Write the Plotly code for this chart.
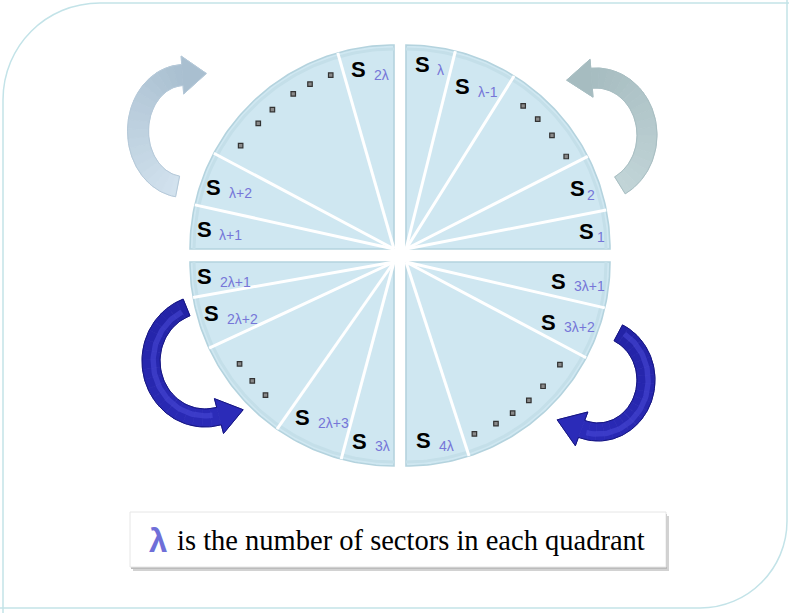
import numpy as np
import plotly.graph_objects as go

# ---------------- data ----------------
# sector boundary angles (degrees, counter-clockwise from east) per quadrant
q1_bounds = [0, 11, 27, 58, 76, 90]
q1_labels = ["1", "2", None, "λ-1", "λ"]
q1_dots = [30.0, 37.9, 44.6, 50.7]

q2_bounds = [90, 106, 152, 167.5, 180]
q2_labels = ["2λ", None, "λ+2", "λ+1"]
q2_dots = [110.0, 117.0, 123.0, 131.1, 137.2, 146.0]

q3_bounds = [180, 190, 205, 235, 255, 270]
q3_labels = ["2λ+1", "2λ+2", None, "2λ+3", "3λ"]
q3_dots = [213.4, 220.0, 226.0]

q4_bounds = [270, 288, 332, 347, 360]
q4_labels = ["4λ", None, "3λ+2", "3λ+1"]
q4_dots = [291.7, 299.1, 305.2, 311.6, 317.8, 326.3]

caption_symbol = "λ"
caption_text = "is the number of sectors in each quadrant"

# ---------------- layout geometry (pixels) ----------------
W, H = 789, 613
CX, CY = 400, 255.5
GX, GY = 6, 6.5
R = 204
DOT_R = 185

quads = [
    (q1_bounds, q1_labels, q1_dots, (CX + GX, CY - GY)),
    (q2_bounds, q2_labels, q2_dots, (CX - GX, CY - GY)),
    (q3_bounds, q3_labels, q3_dots, (CX - GX, CY + GY)),
    (q4_bounds, q4_labels, q4_dots, (CX + GX, CY + GY)),
]

FILL = "#cfe7f1"
EDGE = "#b4d3de"
SUBCOL = "#7676d8"
S_SIZE = 22
SUB_SIZE = 14
S_W = 0.667 * S_SIZE
CHAR_W = {"λ": 0.5, "+": 0.584, "-": 0.333}

fig = go.Figure()


def pt(c, r, a):
    t = np.radians(a)
    return c[0] + r * np.cos(t), c[1] - r * np.sin(t)


def sub_width(s):
    return sum(CHAR_W.get(ch, 0.556) for ch in s) * SUB_SIZE


annotations = []
for bounds, labels, dots, c in quads:
    a0, a1 = bounds[0], bounds[-1]
    arc = np.linspace(a0, a1, 90)
    xs = [c[0]] + [pt(c, R, a)[0] for a in arc] + [c[0]]
    ys = [c[1]] + [pt(c, R, a)[1] for a in arc] + [c[1]]
    fig.add_trace(go.Scatter(x=xs, y=ys, mode="lines", fill="toself",
                             fillcolor=FILL, line=dict(color=EDGE, width=1.6),
                             hoverinfo="skip"))
    # inner rim for slight bevel look
    fig.add_trace(go.Scatter(x=[pt(c, R - 4, a)[0] for a in arc],
                             y=[pt(c, R - 4, a)[1] for a in arc],
                             mode="lines", line=dict(color="#c4dfe9", width=3),
                             hoverinfo="skip"))
    # white sector separators
    lx, ly = [], []
    for b in bounds[1:-1]:
        ex, ey = pt(c, R, b)
        lx += [c[0], ex, None]
        ly += [c[1], ey, None]
    fig.add_trace(go.Scatter(x=lx, y=ly, mode="lines",
                             line=dict(color="white", width=3), hoverinfo="skip"))
    # dots
    fig.add_trace(go.Scatter(x=[pt(c, DOT_R, a)[0] for a in dots],
                             y=[pt(c, DOT_R, a)[1] for a in dots],
                             mode="markers",
                             marker=dict(symbol="square", size=4.5, color="#8a8a8a",
                                         line=dict(color="#333333", width=1.2)),
                             hoverinfo="skip"))
    # labels: bold "S" followed by a lowered, smaller coloured index
    for i, lab in enumerate(labels):
        if lab is None:
            continue
        mid = (bounds[i] + bounds[i + 1]) / 2
        rr = 190 - 4.5 * len(lab)
        x, y = pt(c, rr, mid)
        gap = 1 if lab.isdigit() else 6
        drop = 6 if lab.isdigit() else 5
        total = S_W + gap + sub_width(lab)
        left = x - total / 2
        annotations.append(dict(x=left + S_W / 2, y=y, xref="x", yref="y",
                                text="<b>S</b>", showarrow=False,
                                xanchor="center", yanchor="middle",
                                font=dict(family="Liberation Sans, Arial", size=S_SIZE,
                                          color="black")))
        annotations.append(dict(x=left + S_W + gap, y=y + drop, xref="x", yref="y",
                                text=lab, showarrow=False,
                                xanchor="left", yanchor="middle",
                                font=dict(family="Liberation Sans, Arial", size=SUB_SIZE,
                                          color=SUBCOL)))


def hex2rgb(h):
    h = h.lstrip("#")
    return np.array([int(h[i:i + 2], 16) for i in (0, 2, 4)], dtype=float)


def mix(c1, c2, f):
    v = hex2rgb(c1) * (1 - f) + hex2rgb(c2) * f
    return "rgb(%d,%d,%d)" % tuple(np.round(v))


def arrow(cx, cy, rx, ry, t0, t1, thick, hw, hl, col0, col1, edge, shine=None):
    n = 80
    th = np.radians(np.linspace(t0, t1, n))
    px = cx + rx * np.cos(th)
    py = cy - ry * np.sin(th)
    dx, dy = np.gradient(px), np.gradient(py)
    L = np.hypot(dx, dy)
    tx, ty = dx / L, dy / L
    nx, ny = -ty, tx
    ox, oy = px + nx * thick / 2, py + ny * thick / 2
    ix, iy = px - nx * thick / 2, py - ny * thick / 2
    # body in gradient segments
    nseg = 20
    idx = np.linspace(0, n - 1, nseg + 1).astype(int)
    for k in range(nseg):
        a, b = idx[k], idx[k + 1]
        col = mix(col0, col1, (k + 0.5) / nseg)
        sx = list(ox[a:b + 1]) + list(ix[a:b + 1][::-1]) + [ox[a]]
        sy = list(oy[a:b + 1]) + list(iy[a:b + 1][::-1]) + [oy[a]]
        fig.add_trace(go.Scatter(x=sx, y=sy, mode="lines", fill="toself",
                                 fillcolor=col, line=dict(color=col, width=0.8),
                                 hoverinfo="skip"))
    bx, by = px[-1], py[-1]
    hx = [bx + nx[-1] * hw / 2, bx + tx[-1] * hl, bx - nx[-1] * hw / 2]
    hy = [by + ny[-1] * hw / 2, by + ty[-1] * hl, by - ny[-1] * hw / 2]
    fig.add_trace(go.Scatter(x=hx + [hx[0]], y=hy + [hy[0]], mode="lines", fill="toself",
                             fillcolor=col1, line=dict(color=col1, width=0.8),
                             hoverinfo="skip"))
    if shine:
        fig.add_trace(go.Scatter(x=px[3:-3] - nx[3:-3] * thick * 0.12,
                                 y=py[3:-3] - ny[3:-3] * thick * 0.12,
                                 mode="lines", line=dict(color=shine, width=thick * 0.3),
                                 opacity=0.55, hoverinfo="skip"))
    xs = list(ox) + hx + list(ix[::-1]) + [ox[0]]
    ys = list(oy) + hy + list(iy[::-1]) + [oy[0]]
    fig.add_trace(go.Scatter(x=xs, y=ys, mode="lines",
                             line=dict(color=edge, width=1), hoverinfo="skip"))


arrow(184, 131, 46, 56, 262, 92, 21, 38, 24, "#d3e3ef", "#a9bfd0", "#b5c9d9")
arrow(596, 135, 51, 57, -62, 95, 20, 38, 25, "#c2d5d8", "#a6bcc0", "#a8bec2")
arrow(205, 361, 54, 57, 110, 285, 18, 36, 25, "#2323a6", "#2b2bb8", "#15157f", "#4a4ad8")
arrow(598, 380, 48, 52, 65, -110, 18, 36, 26, "#2323a6", "#2b2bb8", "#15157f", "#4a4ad8")

# caption
annotations.append(dict(x=158, y=540, xref="x", yref="y", text="<b>%s</b>" % caption_symbol,
                        showarrow=False, xanchor="center", yanchor="middle",
                        font=dict(family="Liberation Sans, Arial", size=33, color="#6f6fd8")))
annotations.append(dict(x=175, y=540, xref="x", yref="y", text=caption_text,
                        showarrow=False, xanchor="left", yanchor="middle",
                        font=dict(family="Liberation Serif, Times New Roman", size=28.5,
                                  color="black")))

shapes = [
    # frame
    dict(type="path", xref="x", yref="y",
         path="M 3,613 L 3,100 C 3,46 46,3 100,3 L 789,3",
         line=dict(color="#c3e3e8", width=1.5)),
    dict(type="path", xref="x", yref="y",
         path="M 0,608 L 700,608 C 748,608 787,569 787,521 L 787,0",
         line=dict(color="#c3e3e8", width=1.5)),
    # caption box shadow and box
    dict(type="rect", xref="x", yref="y", x0=133, y0=516, x1=669, y1=571,
         fillcolor="#d2d2d2", line=dict(width=0), layer="below"),
    dict(type="rect", xref="x", yref="y", x0=131, y0=514, x1=667, y1=569,
         fillcolor="#bbbbbb", line=dict(width=0), layer="below"),
    dict(type="rect", xref="x", yref="y", x0=130, y0=512, x1=666, y1=567,
         fillcolor="white", line=dict(color="#e6e6e6", width=1), layer="below"),
]

fig.update_layout(
    width=W, height=H, margin=dict(l=0, r=0, t=0, b=0),
    paper_bgcolor="white", plot_bgcolor="white", showlegend=False,
    xaxis=dict(range=[0, W], visible=False, fixedrange=True),
    yaxis=dict(range=[H, 0], visible=False, fixedrange=True),
    annotations=annotations, shapes=shapes,
)

fig.write_html("out.html", config={"displayModeBar": False},
               post_script="document.body.style.margin='0';document.body.style.padding='0';")
